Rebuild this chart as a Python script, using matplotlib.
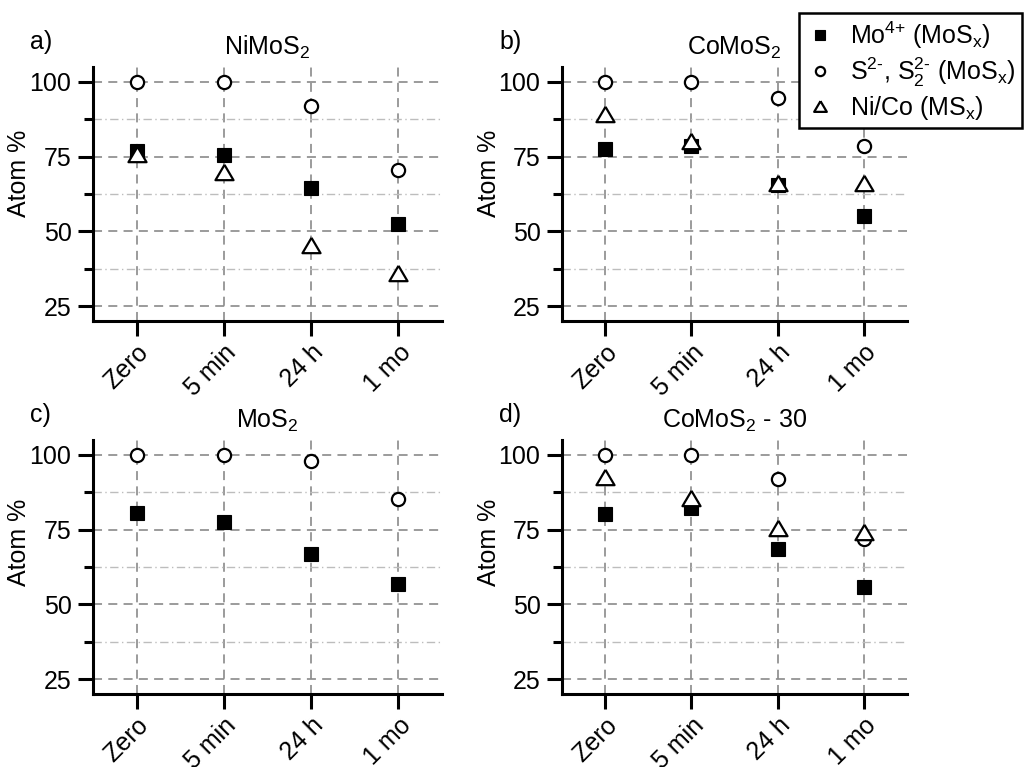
import matplotlib
matplotlib.use("Agg")
import matplotlib.pyplot as plt
import matplotlib.transforms as mtransforms
import numpy as np

plt.rcParams['font.family'] = ['Liberation Sans', 'DejaVu Sans']
plt.rcParams['mathtext.fontset'] = 'custom'
plt.rcParams['mathtext.rm'] = 'Liberation Sans'
plt.rcParams['mathtext.it'] = 'Liberation Sans'
plt.rcParams['mathtext.default'] = 'regular'
plt.rcParams['lines.scale_dashes'] = False

categories = ["Zero", "5 min", "24 h", "1 mo"]

titles = [r"NiMoS$_2$", r"CoMoS$_2$", r"MoS$_2$", r"CoMoS$_2$ - 30"]
panel_labels = ["a)", "b)", "c)", "d)"]

mo4 = [
    [76.8, 75.6, 64.5, 52.6],
    [77.7, 78.5, 65.5, 55.1],
    [80.5, 77.7, 66.8, 56.8],
    [80.2, 82.2, 68.4, 55.9],
]
sulfur = [
    [100, 100, 91.8, 70.6],
    [100, 100, 94.7, 78.5],
    [100, 100, 98.0, 85.2],
    [100, 100, 91.9, 71.8],
]
nico = [
    [76.0, 69.8, 45.3, 36.0],
    [89.4, 80.4, 66.2, 66.2],
    None,
    [92.7, 85.5, 75.5, 74.3],
]

legend_labels = [r"Mo$^{4\text{+}}$ (MoS$_x$)",
                 r"S$^{2\text{-}}$, S$_2^{2\text{-}}$ (MoS$_x$)",
                 r"Ni/Co (MS$_x$)"]

W, H = 1031, 767
fig = plt.figure(figsize=(W / 100, H / 100), dpi=100)

lefts = [93, 562, 93, 562]
rights = [442, 907, 442, 907]
tops = [67, 67, 440, 440]
bottoms = [321, 321, 694, 694]
ylabel_y = [0.58, 0.58, 0.595, 0.595]

tri = [(0, 0.85), (-1, -0.85), (1, -0.85), (0, 0.85)]

FS = 18
handles = None
for i in range(4):
    ax = fig.add_axes([lefts[i] / W, 1 - bottoms[i] / H, (rights[i] - lefts[i]) / W,
                       (bottoms[i] - tops[i]) / H])
    x = np.arange(len(categories))
    ax.set_xlim(-0.5, 3.5)
    ax.set_ylim(20, 105)
    ax.set_yticks([25, 50, 75, 100])
    ax.set_yticks([37.5, 62.5, 87.5], minor=True)
    ax.set_xticks(x)
    ax.set_xticklabels(categories, rotation=45, ha='right', va='top',
                       rotation_mode='anchor', fontsize=FS)
    off = mtransforms.ScaledTranslation(6 / 100, -3 / 100, fig.dpi_scale_trans)
    for lab in ax.get_xticklabels():
        lab.set_transform(lab.get_transform() + off)
    ax.tick_params(axis='y', labelsize=FS, pad=5)
    ax.tick_params(which='major', direction='out', length=10.5, width=2.2)
    ax.tick_params(which='minor', direction='out', length=6.5, width=2.2)
    for s in ['top', 'right']:
        ax.spines[s].set_visible(False)
    for s in ['left', 'bottom']:
        ax.spines[s].set_linewidth(2.2)
    ax.grid(True, which='major', axis='both', color='#808080', lw=1.1,
            linestyle=(0, (6.5, 4.5)))
    ax.grid(True, which='minor', axis='y', color='#bdbdbd', lw=1.0,
            linestyle=(0, (6, 2.5, 1, 2.5)))
    ax.set_axisbelow(True)
    ax.set_ylabel("Atom %", fontsize=FS)
    ax.yaxis.set_label_coords(-0.178, ylabel_y[i])
    h1, = ax.plot(x, mo4[i], linestyle='none', marker='s', ms=10, color='black',
                  mec='black', mew=0.8, zorder=3)
    h2, = ax.plot(x, sulfur[i], linestyle='none', marker='o', ms=9.5, mfc='white',
                  mec='black', mew=1.6, zorder=4)
    h3 = None
    if nico[i] is not None:
        h3, = ax.plot(x, nico[i], linestyle='none', marker=tri, ms=13, mfc='white',
                      mec='black', mew=1.6, zorder=5)
    if i == 1:
        handles = [h1, h2, h3]
    ax.set_title(titles[i], fontsize=FS, pad=9)
    fig.text((lefts[i] - 63) / W, 1 - (tops[i] - 25) / H, panel_labels[i],
             fontsize=FS, ha='left', va='center')

leg = fig.legend(handles, legend_labels, loc='upper right',
                 bbox_to_anchor=(1022 / W, 1 - 13 / H), fontsize=FS,
                 frameon=True, fancybox=False, handlelength=1.2,
                 handletextpad=0.6, borderpad=0.25, labelspacing=0.2,
                 borderaxespad=0, markerscale=0.7)
leg.get_frame().set_edgecolor('black')
leg.get_frame().set_linewidth(1.8)
leg.get_frame().set_alpha(1)

fig.savefig("out.png", dpi=100)
